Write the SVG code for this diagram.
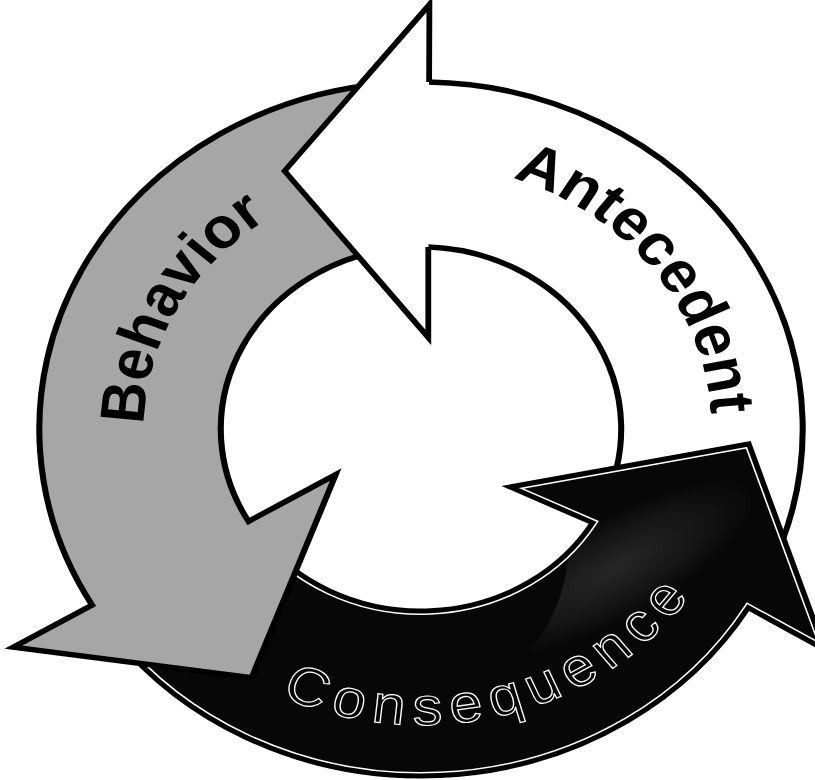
<svg xmlns="http://www.w3.org/2000/svg" xmlns:xlink="http://www.w3.org/1999/xlink" width="815" height="780" viewBox="0 0 815 780">
<style>
.ol{stroke:#000;stroke-width:5.5;stroke-linejoin:miter;vector-effect:non-scaling-stroke}
.wht{fill:#fff}
.gry{fill:#a6a6a6}
.blk{fill:#070707}
.lblB{font-family:"Liberation Sans",Arial,sans-serif;font-weight:bold;fill:#000}
.lblC{font-family:"Liberation Sans",Arial,sans-serif;font-weight:normal;fill:#050505;stroke:#fff;stroke-width:1.2}
</style>
<defs>
<path id="pW" d="M 7.27 -346.92 A 347 347 0 0 1 314.49 146.65 L 164.95 76.92 A 182 182 0 0 0 6.5 -181.88 L 6.5 -92 L -124 -258 L 7.5 -424 Z"/>
<path id="pG" d="M -298.99 176.12 A 347 347 0 0 1 -29.04 -345.78 L -15.23 -181.36 A 182 182 0 0 0 -156.82 92.37 L -77.55 45.68 L -154 248.6 L -370.5 218.24 Z"/>
<path id="pC" d="M 297.44 178.72 A 347 347 0 0 1 -278.94 206.40 L -146.30 108.26 A 182 182 0 0 0 156.00 93.74 L 81 58 L 298 15 L 366.87 220.44 Z"/>
<clipPath id="clipC"><use xlink:href="#pC"/></clipPath>
<radialGradient id="glow" cx="0.5" cy="0.5" r="0.5">
  <stop offset="0" stop-color="#fff" stop-opacity="0.13"/>
  <stop offset="0.6" stop-color="#fff" stop-opacity="0.06"/>
  <stop offset="1" stop-color="#fff" stop-opacity="0"/>
</radialGradient>
<path id="tA" d="M 82.89 -250.65 A 264 264 0 0 1 255.0 68.33"/>
<path id="tB" d="M -251.96 -4.40 A 252 252 0 0 1 -86.19 -236.80"/>
<path id="tC" d="M -127.43 267.17 A 296 296 0 0 0 268.27 125.09"/>
</defs>
<g transform="translate(421,429) scale(1.1,1)">
  <g id="antecedent">
    <use xlink:href="#pW" class="wht ol"/>
    <text class="lblB" font-size="58"><textPath xlink:href="#tA">Antecedent</textPath></text>
  </g>
  <g id="consequence">
    <use xlink:href="#pC" class="blk"/>
    <ellipse cx="175" cy="140" rx="150" ry="50" transform="rotate(-32 175 140)" fill="url(#glow)" clip-path="url(#clipC)"/>
    <use xlink:href="#pC" fill="none" stroke="#fff" stroke-width="8" clip-path="url(#clipC)" style="vector-effect:non-scaling-stroke"/>
    <use xlink:href="#pC" fill="none" class="ol" style="stroke-width:5"/>
    <text class="lblC" font-size="54"><textPath xlink:href="#tC" textLength="418" lengthAdjust="spacing">Consequence</textPath></text>
  </g>
  <g id="behavior">
    <use xlink:href="#pG" class="gry ol"/>
    <text class="lblB" font-size="57"><textPath xlink:href="#tB">Behavior</textPath></text>
  </g>
  <g id="antecedent-head">
    <polygon points="6.5,-92 -124,-258 7.5,-424" class="wht"/>
    <polyline points="7.27,-346.92 7.5,-424 -124,-258 6.5,-92 6.5,-181.88" fill="none" class="ol"/>
  </g>
</g>
</svg>
